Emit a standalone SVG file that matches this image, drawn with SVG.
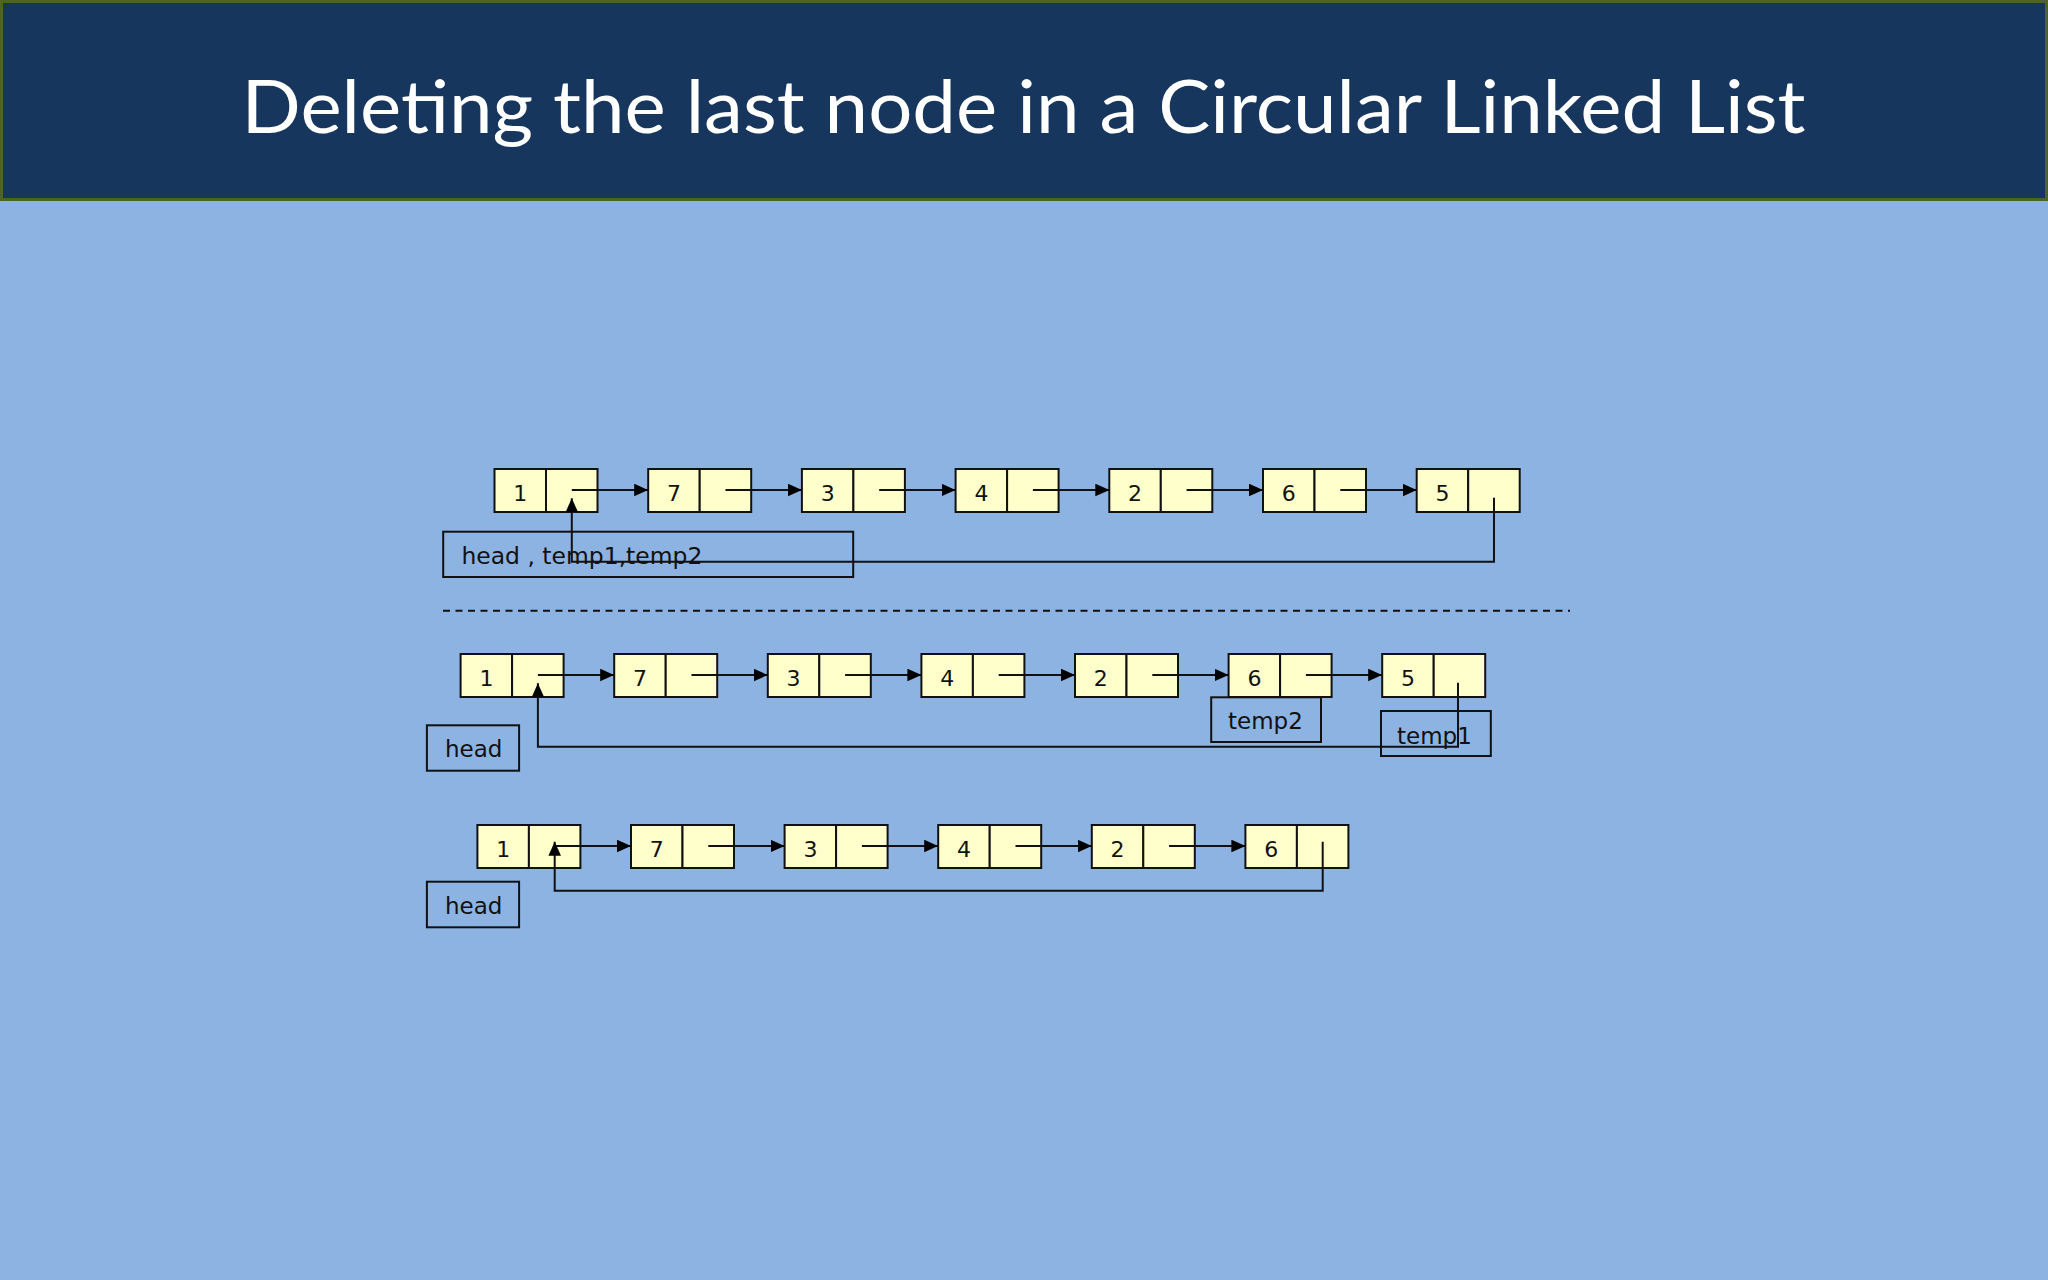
<svg xmlns="http://www.w3.org/2000/svg" width="2048" height="1280" viewBox="0 0 2048 1280">
<defs>
<style>
.cell{fill:#FFFFCC;stroke:#111;stroke-width:2}
.num{font-family:"DejaVu Sans",Verdana,sans-serif;font-size:22px;fill:#111;text-anchor:middle}
.lbl{font-family:"DejaVu Sans",Verdana,sans-serif;font-size:23px;fill:#111}
.box{fill:none;stroke:#111;stroke-width:2}
.ln{fill:none;stroke:#111;stroke-width:2}
</style>
<marker id="ah" markerUnits="userSpaceOnUse" markerWidth="14" markerHeight="13" refX="14" refY="6.3" orient="auto">
<path d="M0,0 L14,6.3 L0,12.6 z" fill="#000"/>
</marker>
</defs>
<rect x="0" y="0" width="2048" height="1280" fill="#8DB3E2"/>
<g id="header">
<rect x="1.5" y="1.5" width="2045" height="198" fill="#17365D" stroke="#4F6228" stroke-width="3"/>
<text x="241.6" y="133" font-family="Lato,'Open Sans',sans-serif" font-size="74" fill="#FFFFFF" textLength="1564" lengthAdjust="spacingAndGlyphs">Deleting the last node in a Circular Linked List</text>
</g>

<!-- Row 1 -->
<g id="r1n1"><rect class="cell" x="494.5" y="469" width="51.5" height="43"/><rect class="cell" x="546" y="469" width="51.5" height="43"/><text class="num" x="520.3" y="501">1</text></g>
<g id="r1n2"><rect class="cell" x="648.2" y="469" width="51.5" height="43"/><rect class="cell" x="699.7" y="469" width="51.5" height="43"/><text class="num" x="674" y="501">7</text></g>
<g id="r1n3"><rect class="cell" x="801.9" y="469" width="51.5" height="43"/><rect class="cell" x="853.4" y="469" width="51.5" height="43"/><text class="num" x="827.7" y="501">3</text></g>
<g id="r1n4"><rect class="cell" x="955.6" y="469" width="51.5" height="43"/><rect class="cell" x="1007.1" y="469" width="51.5" height="43"/><text class="num" x="981.4" y="501">4</text></g>
<g id="r1n5"><rect class="cell" x="1109.3" y="469" width="51.5" height="43"/><rect class="cell" x="1160.8" y="469" width="51.5" height="43"/><text class="num" x="1135.1" y="501">2</text></g>
<g id="r1n6"><rect class="cell" x="1263" y="469" width="51.5" height="43"/><rect class="cell" x="1314.5" y="469" width="51.5" height="43"/><text class="num" x="1288.8" y="501">6</text></g>
<g id="r1n7"><rect class="cell" x="1416.7" y="469" width="51.5" height="43"/><rect class="cell" x="1468.2" y="469" width="51.5" height="43"/><text class="num" x="1442.5" y="501">5</text></g>
<g id="r1label"><rect class="box" x="443.2" y="531.7" width="410" height="45.3"/><text class="lbl" x="461.4" y="564" textLength="241" lengthAdjust="spacingAndGlyphs">head , temp1,temp2</text></g>

<g id="separator"><line x1="443" y1="610.7" x2="1570" y2="610.7" stroke="#111" stroke-width="2" stroke-dasharray="7 5.5"/></g>

<!-- Row 2 -->
<g id="r2n1"><rect class="cell" x="460.6" y="654" width="51.5" height="43"/><rect class="cell" x="512.1" y="654" width="51.5" height="43"/><text class="num" x="486.4" y="686">1</text></g>
<g id="r2n2"><rect class="cell" x="614.2" y="654" width="51.5" height="43"/><rect class="cell" x="665.7" y="654" width="51.5" height="43"/><text class="num" x="640" y="686">7</text></g>
<g id="r2n3"><rect class="cell" x="767.8" y="654" width="51.5" height="43"/><rect class="cell" x="819.3" y="654" width="51.5" height="43"/><text class="num" x="793.6" y="686">3</text></g>
<g id="r2n4"><rect class="cell" x="921.4" y="654" width="51.5" height="43"/><rect class="cell" x="972.9" y="654" width="51.5" height="43"/><text class="num" x="947.2" y="686">4</text></g>
<g id="r2n5"><rect class="cell" x="1075" y="654" width="51.5" height="43"/><rect class="cell" x="1126.5" y="654" width="51.5" height="43"/><text class="num" x="1100.8" y="686">2</text></g>
<g id="r2n6"><rect class="cell" x="1228.6" y="654" width="51.5" height="43"/><rect class="cell" x="1280.1" y="654" width="51.5" height="43"/><text class="num" x="1254.4" y="686">6</text></g>
<g id="r2n7"><rect class="cell" x="1382.2" y="654" width="51.5" height="43"/><rect class="cell" x="1433.7" y="654" width="51.5" height="43"/><text class="num" x="1408" y="686">5</text></g>
<g id="r2head"><rect class="box" x="426.9" y="725.3" width="92.2" height="45.4"/><text class="lbl" x="445" y="757.3">head</text></g>
<g id="r2temp2"><rect class="box" x="1211.2" y="697.3" width="109.8" height="44.7"/><text class="lbl" x="1228" y="729.3">temp2</text></g>
<g id="r2temp1"><rect class="box" x="1381" y="711" width="109.8" height="45"/><text class="lbl" x="1397" y="744">temp1</text></g>

<!-- Row 3 -->
<g id="r3n1"><rect class="cell" x="477.4" y="825" width="51.5" height="43"/><rect class="cell" x="528.9" y="825" width="51.5" height="43"/><text class="num" x="503.2" y="857">1</text></g>
<g id="r3n2"><rect class="cell" x="631" y="825" width="51.5" height="43"/><rect class="cell" x="682.5" y="825" width="51.5" height="43"/><text class="num" x="656.8" y="857">7</text></g>
<g id="r3n3"><rect class="cell" x="784.6" y="825" width="51.5" height="43"/><rect class="cell" x="836.1" y="825" width="51.5" height="43"/><text class="num" x="810.4" y="857">3</text></g>
<g id="r3n4"><rect class="cell" x="938.2" y="825" width="51.5" height="43"/><rect class="cell" x="989.7" y="825" width="51.5" height="43"/><text class="num" x="964" y="857">4</text></g>
<g id="r3n5"><rect class="cell" x="1091.8" y="825" width="51.5" height="43"/><rect class="cell" x="1143.3" y="825" width="51.5" height="43"/><text class="num" x="1117.6" y="857">2</text></g>
<g id="r3n6"><rect class="cell" x="1245.4" y="825" width="51.5" height="43"/><rect class="cell" x="1296.9" y="825" width="51.5" height="43"/><text class="num" x="1271.2" y="857">6</text></g>
<g id="r3head"><rect class="box" x="426.9" y="881.7" width="92.2" height="45.6"/><text class="lbl" x="445" y="914">head</text></g>

<g id="connectors">
<!-- row 1 -->
<line class="ln" x1="571.8" y1="490" x2="648.2" y2="490" marker-end="url(#ah)"/>
<line class="ln" x1="725.5" y1="490" x2="801.9" y2="490" marker-end="url(#ah)"/>
<line class="ln" x1="879.2" y1="490" x2="955.6" y2="490" marker-end="url(#ah)"/>
<line class="ln" x1="1032.9" y1="490" x2="1109.3" y2="490" marker-end="url(#ah)"/>
<line class="ln" x1="1186.6" y1="490" x2="1263" y2="490" marker-end="url(#ah)"/>
<line class="ln" x1="1340.3" y1="490" x2="1416.7" y2="490" marker-end="url(#ah)"/>
<path class="ln" d="M1494,497.7 V561.7 H571.8 V498.3" marker-end="url(#ah)"/>
<!-- row 2 -->
<line class="ln" x1="537.9" y1="675" x2="614.2" y2="675" marker-end="url(#ah)"/>
<line class="ln" x1="691.5" y1="675" x2="767.8" y2="675" marker-end="url(#ah)"/>
<line class="ln" x1="845.1" y1="675" x2="921.4" y2="675" marker-end="url(#ah)"/>
<line class="ln" x1="998.7" y1="675" x2="1075" y2="675" marker-end="url(#ah)"/>
<line class="ln" x1="1152.3" y1="675" x2="1228.6" y2="675" marker-end="url(#ah)"/>
<line class="ln" x1="1305.9" y1="675" x2="1382.2" y2="675" marker-end="url(#ah)"/>
<path class="ln" d="M1458,682.7 V746.7 H537.9 V683.3" marker-end="url(#ah)"/>
<!-- row 3 -->
<line class="ln" x1="554.7" y1="846" x2="631" y2="846" marker-end="url(#ah)"/>
<line class="ln" x1="708.3" y1="846" x2="784.6" y2="846" marker-end="url(#ah)"/>
<line class="ln" x1="861.9" y1="846" x2="938.2" y2="846" marker-end="url(#ah)"/>
<line class="ln" x1="1015.5" y1="846" x2="1091.8" y2="846" marker-end="url(#ah)"/>
<line class="ln" x1="1169.1" y1="846" x2="1245.4" y2="846" marker-end="url(#ah)"/>
<path class="ln" d="M1322.7,841.7 V890.7 H554.7 V841.7" marker-end="url(#ah)"/>
</g>
</svg>
